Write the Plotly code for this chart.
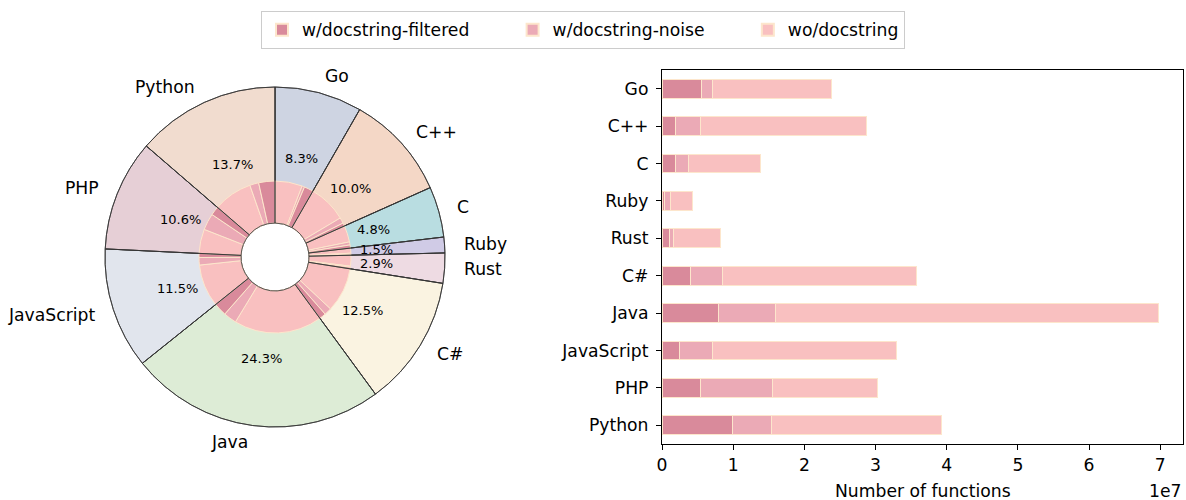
import math
import plotly.graph_objects as go

# ---------------- data ----------------
languages = ["Python", "PHP", "JavaScript", "Java", "C#", "Rust", "Ruby", "C", "C++", "Go"]
filtered = [9.9e6, 5.4e6, 2.5e6, 7.9e6, 4.0e6, 1.0e6, 0.4e6, 1.9e6, 1.9e6, 5.6e6]
noise = [5.45e6, 10.1e6, 4.55e6, 8.0e6, 4.5e6, 0.6e6, 0.8e6, 1.85e6, 3.5e6, 1.55e6]
without = [23.85e6, 14.8e6, 25.95e6, 53.8e6, 27.2e6, 6.6e6, 3.1e6, 10.05e6, 23.3e6, 16.65e6]
series_names = ["w/docstring-filtered", "w/docstring-noise", "wo/docstring"]
x_tick_vals = [0, 1e7, 2e7, 3e7, 4e7, 5e7, 6e7, 7e7]
x_tick_text = ["0", "1", "2", "3", "4", "5", "6", "7"]

outer_colors = ["#f1dccf", "#e6cfd6", "#e1e5ed", "#ddecd6", "#faf3e1",
                "#eedbe3", "#d0cbe6", "#b9dde1", "#f4d7c6", "#ced4e2"]
series_colors = ["#d98a9b", "#ebaab6", "#f9c0c0"]
edge_cream = "#fde6cc"

W, H = 1186, 500
FONT = "DejaVu Sans"
FS = 17.2

totals = [a + b + c for a, b, c in zip(filtered, noise, without)]
grand = sum(totals)

# pie geometry (pixels)
cx, cy = 275, 257
R_out, R_in, R_hole = 170, 76, 34


def dom(r):
    return dict(x=[(cx - r) / W, (cx + r) / W], y=[1 - (cy + r) / H, 1 - (cy - r) / H])


# slices go counterclockwise from 12 o'clock in data order; plotly draws
# clockwise from 12 o'clock, so feed the reversed order
rev_lang = languages[::-1]
rev_tot = totals[::-1]
rev_cols = outer_colors[::-1]

fig = go.Figure()

# outer ring (languages)
fig.add_trace(go.Pie(
    values=rev_tot, labels=rev_lang, sort=False, direction="clockwise",
    rotation=0, hole=R_hole / R_out, domain=dom(R_out),
    marker=dict(colors=rev_cols, line=dict(color="#333333", width=0.8)),
    textinfo="none", showlegend=False, hoverinfo="label+percent",
))

# inner ring (per-language breakdown)
inner_vals, inner_cols, inner_labels = [], [], []
for i, lang in enumerate(languages):
    for k, arr in enumerate([filtered, noise, without]):
        inner_vals.append(arr[i])
        inner_cols.append(series_colors[k])
        inner_labels.append(f"{lang} {series_names[k]}")
fig.add_trace(go.Pie(
    values=inner_vals[::-1], labels=inner_labels[::-1], sort=False, direction="clockwise",
    rotation=0, hole=R_hole / R_in, domain=dom(R_in),
    marker=dict(colors=inner_cols[::-1], line=dict(color=edge_cream, width=1)),
    textinfo="none", showlegend=False, hoverinfo="label+value",
))

# outline overlay so wedge edges cross the inner ring
fig.add_trace(go.Pie(
    values=rev_tot, labels=[l + " " for l in rev_lang], sort=False, direction="clockwise",
    rotation=0, hole=R_hole / R_out, domain=dom(R_out),
    marker=dict(colors=["rgba(0,0,0,0)"] * len(languages), line=dict(color="#333333", width=0.8)),
    textinfo="none", showlegend=False, hoverinfo="skip",
))

# pie labels
cum = 0.0
for lang, t in zip(languages, totals):
    frac = t / grand
    mid = cum + frac / 2
    cum += frac
    theta = math.radians(90 + 360 * mid)
    px = cx + 0.6 * R_out * math.cos(theta)
    py = cy - 0.6 * R_out * math.sin(theta)
    fig.add_annotation(x=px / W, y=1 - py / H, xref="paper", yref="paper",
                       text=f"{frac * 100:.1f}%", showarrow=False,
                       font=dict(family=FONT, size=13, color="black"),
                       xanchor="center", yanchor="middle")
    lx = cx + 1.1 * R_out * math.cos(theta)
    ly = cy - 1.1 * R_out * math.sin(theta)
    fig.add_annotation(x=lx / W, y=1 - ly / H, xref="paper", yref="paper",
                       text=lang, showarrow=False,
                       font=dict(family=FONT, size=FS, color="black"),
                       xanchor="left" if math.cos(theta) > 0 else "right",
                       yanchor="middle")

# stacked bars
pad = "\u00a0" * 7
for j, (name, arr, col) in enumerate(zip(series_names, [filtered, noise, without], series_colors)):
    fig.add_trace(go.Bar(
        y=languages, x=arr, name=name + (pad if j < len(series_names) - 1 else ""),
        orientation="h", width=0.5,
        marker=dict(color=col, line=dict(color=edge_cream, width=1)),
        xaxis="x", yaxis="y",
    ))

fig.update_layout(
    width=W, height=H, margin=dict(l=0, r=0, t=0, b=0, autoexpand=False),
    paper_bgcolor="white", plot_bgcolor="white",
    barmode="stack",
    font=dict(family=FONT, size=FS, color="black"),
    xaxis=dict(domain=[662 / W, 1183 / W], range=[0, 7.32e7],
               tickvals=x_tick_vals, ticktext=x_tick_text,
               ticks="outside", ticklen=5, tickwidth=1, tickcolor="black",
               showline=True, linecolor="black", linewidth=1.2, mirror=True,
               showgrid=False, zeroline=False, automargin=False,
               tickfont=dict(family=FONT, size=FS), anchor="y"),
    yaxis=dict(domain=[1 - 444 / H, 1 - 70 / H], range=[-0.5, 9.5],
               ticks="outside", ticklen=5, tickwidth=1, tickcolor="black",
               showline=True, linecolor="black", linewidth=1.2, mirror=True,
               showgrid=False, zeroline=False, automargin=False,
               ticklabelstandoff=4,
               tickfont=dict(family=FONT, size=FS), anchor="x"),
    legend=dict(orientation="h", x=583 / W, xanchor="center", y=1 - 11 / H, yanchor="top",
                bordercolor="#cccccc", borderwidth=1, bgcolor="white",
                font=dict(family=FONT, size=FS), traceorder="normal",
                itemsizing="constant"),
)

fig.add_annotation(x=923 / W, y=1 - 491 / H, xref="paper", yref="paper",
                   text="Number of functions", showarrow=False,
                   xanchor="center", yanchor="middle",
                   font=dict(family=FONT, size=FS, color="black"))
fig.add_annotation(x=1183 / W, y=1 - 491 / H, xref="paper", yref="paper", text="1e7",
                   showarrow=False, xanchor="right", yanchor="middle",
                   font=dict(family=FONT, size=FS, color="black"))

fig.write_html("out.html", config={"displayModeBar": False},
               post_script="document.body.style.margin='0';")
